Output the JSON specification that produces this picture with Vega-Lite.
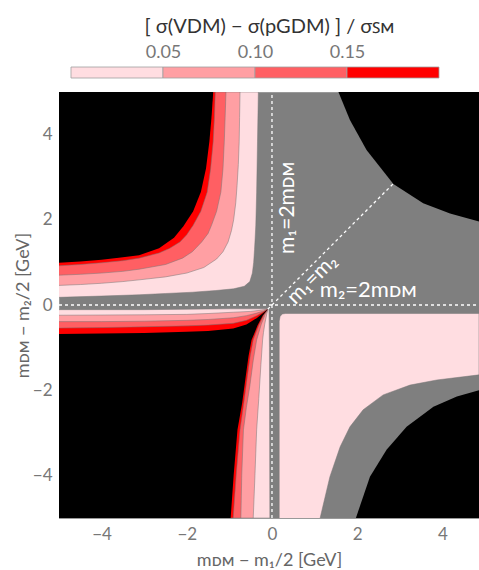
{
  "$schema": "https://vega.github.io/schema/vega-lite/v6.json",
  "padding": {"left": 13, "top": 16, "right": 0, "bottom": 0},
  "background": "white",
  "spacing": 12,
  "config": {"font": "Lato", "view": {"stroke": null}},
  "datasets": {
    "polys": [
      {"poly":"q2L","band":"light","i":0,"x":-5,"y":0.18},{"poly":"q2L","band":"light","i":1,"x":-4,"y":0.21},{"poly":"q2L","band":"light","i":2,"x":-3.12,"y":0.24},{"poly":"q2L","band":"light","i":3,"x":-2.5,"y":0.27},{"poly":"q2L","band":"light","i":4,"x":-1.87,"y":0.3},{"poly":"q2L","band":"light","i":5,"x":-1.32,"y":0.34},{"poly":"q2L","band":"light","i":6,"x":-0.9,"y":0.38},{"poly":"q2L","band":"light","i":7,"x":-0.65,"y":0.44},{"poly":"q2L","band":"light","i":8,"x":-0.52,"y":0.55},{"poly":"q2L","band":"light","i":9,"x":-0.46,"y":0.75},{"poly":"q2L","band":"light","i":10,"x":-0.43,"y":1.0},{"poly":"q2L","band":"light","i":11,"x":-0.41,"y":1.3},{"poly":"q2L","band":"light","i":12,"x":-0.4,"y":1.48},{"poly":"q2L","band":"light","i":13,"x":-0.38,"y":1.87},{"poly":"q2L","band":"light","i":14,"x":-0.36,"y":2.65},{"poly":"q2L","band":"light","i":15,"x":-0.34,"y":3.83},{"poly":"q2L","band":"light","i":16,"x":-0.32,"y":5},{"poly":"q2L","band":"light","i":17,"x":-5,"y":5},
      {"poly":"q2M","band":"mid","i":0,"x":-5,"y":0.46},{"poly":"q2M","band":"mid","i":1,"x":-4.5,"y":0.48},{"poly":"q2M","band":"mid","i":2,"x":-4,"y":0.51},{"poly":"q2M","band":"mid","i":3,"x":-3.5,"y":0.55},{"poly":"q2M","band":"mid","i":4,"x":-3.12,"y":0.59},{"poly":"q2M","band":"mid","i":5,"x":-2.5,"y":0.66},{"poly":"q2M","band":"mid","i":6,"x":-2,"y":0.75},{"poly":"q2M","band":"mid","i":7,"x":-1.6,"y":0.88},{"poly":"q2M","band":"mid","i":8,"x":-1.3,"y":1.08},{"poly":"q2M","band":"mid","i":9,"x":-1.15,"y":1.25},{"poly":"q2M","band":"mid","i":10,"x":-1.03,"y":1.48},{"poly":"q2M","band":"mid","i":11,"x":-0.95,"y":1.75},{"poly":"q2M","band":"mid","i":12,"x":-0.9,"y":2.0},{"poly":"q2M","band":"mid","i":13,"x":-0.85,"y":2.4},{"poly":"q2M","band":"mid","i":14,"x":-0.82,"y":2.8},{"poly":"q2M","band":"mid","i":15,"x":-0.79,"y":3.3},{"poly":"q2M","band":"mid","i":16,"x":-0.77,"y":3.83},{"poly":"q2M","band":"mid","i":17,"x":-0.76,"y":4.4},{"poly":"q2M","band":"mid","i":18,"x":-0.75,"y":5},{"poly":"q2M","band":"mid","i":19,"x":-5,"y":5},
      {"poly":"q2D","band":"dark","i":0,"x":-5,"y":0.7},{"poly":"q2D","band":"dark","i":1,"x":-4.5,"y":0.72},{"poly":"q2D","band":"dark","i":2,"x":-4,"y":0.75},{"poly":"q2D","band":"dark","i":3,"x":-3.5,"y":0.79},{"poly":"q2D","band":"dark","i":4,"x":-3.12,"y":0.84},{"poly":"q2D","band":"dark","i":5,"x":-2.5,"y":0.95},{"poly":"q2D","band":"dark","i":6,"x":-2.1,"y":1.1},{"poly":"q2D","band":"dark","i":7,"x":-1.87,"y":1.25},{"poly":"q2D","band":"dark","i":8,"x":-1.65,"y":1.48},{"poly":"q2D","band":"dark","i":9,"x":-1.5,"y":1.68},{"poly":"q2D","band":"dark","i":10,"x":-1.42,"y":1.87},{"poly":"q2D","band":"dark","i":11,"x":-1.3,"y":2.2},{"poly":"q2D","band":"dark","i":12,"x":-1.2,"y":2.65},{"poly":"q2D","band":"dark","i":13,"x":-1.15,"y":3.2},{"poly":"q2D","band":"dark","i":14,"x":-1.12,"y":3.83},{"poly":"q2D","band":"dark","i":15,"x":-1.1,"y":4.4},{"poly":"q2D","band":"dark","i":16,"x":-1.08,"y":5},{"poly":"q2D","band":"dark","i":17,"x":-5,"y":5},
      {"poly":"q2R","band":"red","i":0,"x":-5,"y":0.92},{"poly":"q2R","band":"red","i":1,"x":-4.5,"y":0.95},{"poly":"q2R","band":"red","i":2,"x":-4,"y":0.99},{"poly":"q2R","band":"red","i":3,"x":-3.5,"y":1.04},{"poly":"q2R","band":"red","i":4,"x":-3.12,"y":1.1},{"poly":"q2R","band":"red","i":5,"x":-2.65,"y":1.22},{"poly":"q2R","band":"red","i":6,"x":-2.4,"y":1.33},{"poly":"q2R","band":"red","i":7,"x":-2.16,"y":1.48},{"poly":"q2R","band":"red","i":8,"x":-2,"y":1.65},{"poly":"q2R","band":"red","i":9,"x":-1.85,"y":1.87},{"poly":"q2R","band":"red","i":10,"x":-1.67,"y":2.2},{"poly":"q2R","band":"red","i":11,"x":-1.52,"y":2.65},{"poly":"q2R","band":"red","i":12,"x":-1.44,"y":3.2},{"poly":"q2R","band":"red","i":13,"x":-1.38,"y":3.83},{"poly":"q2R","band":"red","i":14,"x":-1.35,"y":4.4},{"poly":"q2R","band":"red","i":15,"x":-1.33,"y":5},{"poly":"q2R","band":"red","i":16,"x":-5,"y":5},
      {"poly":"q2K","band":"black","i":0,"x":-5,"y":0.99},{"poly":"q2K","band":"black","i":1,"x":-4.5,"y":1.02},{"poly":"q2K","band":"black","i":2,"x":-4,"y":1.06},{"poly":"q2K","band":"black","i":3,"x":-3.5,"y":1.12},{"poly":"q2K","band":"black","i":4,"x":-3.12,"y":1.17},{"poly":"q2K","band":"black","i":5,"x":-2.65,"y":1.33},{"poly":"q2K","band":"black","i":6,"x":-2.3,"y":1.58},{"poly":"q2K","band":"black","i":7,"x":-2.08,"y":1.85},{"poly":"q2K","band":"black","i":8,"x":-1.85,"y":2.2},{"poly":"q2K","band":"black","i":9,"x":-1.67,"y":2.65},{"poly":"q2K","band":"black","i":10,"x":-1.55,"y":3.2},{"poly":"q2K","band":"black","i":11,"x":-1.47,"y":3.83},{"poly":"q2K","band":"black","i":12,"x":-1.42,"y":4.4},{"poly":"q2K","band":"black","i":13,"x":-1.38,"y":5},{"poly":"q2K","band":"black","i":14,"x":-5,"y":5},
      {"poly":"q3L","band":"light","i":0,"x":-5,"y":-0.11},{"poly":"q3L","band":"light","i":1,"x":-3,"y":-0.11},{"poly":"q3L","band":"light","i":2,"x":-1,"y":-0.09},{"poly":"q3L","band":"light","i":3,"x":-0.07,"y":-0.09},{"poly":"q3L","band":"light","i":4,"x":-0.06,"y":-1},{"poly":"q3L","band":"light","i":5,"x":-0.05,"y":-5},{"poly":"q3L","band":"light","i":6,"x":-5,"y":-5},
      {"poly":"q3M","band":"mid","i":0,"x":-5,"y":-0.24},{"poly":"q3M","band":"mid","i":1,"x":-3,"y":-0.23},{"poly":"q3M","band":"mid","i":2,"x":-2,"y":-0.22},{"poly":"q3M","band":"mid","i":3,"x":-1.5,"y":-0.2},{"poly":"q3M","band":"mid","i":4,"x":-0.91,"y":-0.17},{"poly":"q3M","band":"mid","i":5,"x":-0.5,"y":-0.15},{"poly":"q3M","band":"mid","i":6,"x":-0.25,"y":-0.12},{"poly":"q3M","band":"mid","i":7,"x":-0.09,"y":-0.09},{"poly":"q3M","band":"mid","i":8,"x":-0.12,"y":-0.2},{"poly":"q3M","band":"mid","i":9,"x":-0.17,"y":-0.45},{"poly":"q3M","band":"mid","i":10,"x":-0.2,"y":-0.65},{"poly":"q3M","band":"mid","i":11,"x":-0.22,"y":-0.82},{"poly":"q3M","band":"mid","i":12,"x":-0.26,"y":-1.4},{"poly":"q3M","band":"mid","i":13,"x":-0.31,"y":-2.2},{"poly":"q3M","band":"mid","i":14,"x":-0.36,"y":-2.93},{"poly":"q3M","band":"mid","i":15,"x":-0.4,"y":-4},{"poly":"q3M","band":"mid","i":16,"x":-0.44,"y":-5},{"poly":"q3M","band":"mid","i":17,"x":-5,"y":-5},
      {"poly":"q3D","band":"dark","i":0,"x":-5,"y":-0.39},{"poly":"q3D","band":"dark","i":1,"x":-4,"y":-0.39},{"poly":"q3D","band":"dark","i":2,"x":-3,"y":-0.38},{"poly":"q3D","band":"dark","i":3,"x":-2,"y":-0.36},{"poly":"q3D","band":"dark","i":4,"x":-1.5,"y":-0.34},{"poly":"q3D","band":"dark","i":5,"x":-0.91,"y":-0.3},{"poly":"q3D","band":"dark","i":6,"x":-0.6,"y":-0.25},{"poly":"q3D","band":"dark","i":7,"x":-0.36,"y":-0.19},{"poly":"q3D","band":"dark","i":8,"x":-0.2,"y":-0.14},{"poly":"q3D","band":"dark","i":9,"x":-0.09,"y":-0.09},{"poly":"q3D","band":"dark","i":10,"x":-0.16,"y":-0.22},{"poly":"q3D","band":"dark","i":11,"x":-0.25,"y":-0.45},{"poly":"q3D","band":"dark","i":12,"x":-0.31,"y":-0.65},{"poly":"q3D","band":"dark","i":13,"x":-0.36,"y":-0.82},{"poly":"q3D","band":"dark","i":14,"x":-0.44,"y":-1.3},{"poly":"q3D","band":"dark","i":15,"x":-0.52,"y":-1.9},{"poly":"q3D","band":"dark","i":16,"x":-0.6,"y":-2.4},{"poly":"q3D","band":"dark","i":17,"x":-0.67,"y":-2.93},{"poly":"q3D","band":"dark","i":18,"x":-0.71,"y":-4},{"poly":"q3D","band":"dark","i":19,"x":-0.73,"y":-5},{"poly":"q3D","band":"dark","i":20,"x":-5,"y":-5},
      {"poly":"q3R","band":"red","i":0,"x":-5,"y":-0.54},{"poly":"q3R","band":"red","i":1,"x":-4,"y":-0.53},{"poly":"q3R","band":"red","i":2,"x":-3,"y":-0.51},{"poly":"q3R","band":"red","i":3,"x":-2,"y":-0.49},{"poly":"q3R","band":"red","i":4,"x":-1.5,"y":-0.47},{"poly":"q3R","band":"red","i":5,"x":-0.91,"y":-0.43},{"poly":"q3R","band":"red","i":6,"x":-0.6,"y":-0.36},{"poly":"q3R","band":"red","i":7,"x":-0.36,"y":-0.25},{"poly":"q3R","band":"red","i":8,"x":-0.2,"y":-0.16},{"poly":"q3R","band":"red","i":9,"x":-0.09,"y":-0.09},{"poly":"q3R","band":"red","i":10,"x":-0.19,"y":-0.23},{"poly":"q3R","band":"red","i":11,"x":-0.3,"y":-0.46},{"poly":"q3R","band":"red","i":12,"x":-0.38,"y":-0.66},{"poly":"q3R","band":"red","i":13,"x":-0.44,"y":-0.82},{"poly":"q3R","band":"red","i":14,"x":-0.51,"y":-1.2},{"poly":"q3R","band":"red","i":15,"x":-0.58,"y":-1.7},{"poly":"q3R","band":"red","i":16,"x":-0.66,"y":-2.3},{"poly":"q3R","band":"red","i":17,"x":-0.75,"y":-2.93},{"poly":"q3R","band":"red","i":18,"x":-0.84,"y":-4},{"poly":"q3R","band":"red","i":19,"x":-0.91,"y":-5},{"poly":"q3R","band":"red","i":20,"x":-5,"y":-5},
      {"poly":"q3K","band":"black","i":0,"x":-5,"y":-0.68},{"poly":"q3K","band":"black","i":1,"x":-4,"y":-0.67},{"poly":"q3K","band":"black","i":2,"x":-3,"y":-0.66},{"poly":"q3K","band":"black","i":3,"x":-2,"y":-0.63},{"poly":"q3K","band":"black","i":4,"x":-1.5,"y":-0.61},{"poly":"q3K","band":"black","i":5,"x":-0.91,"y":-0.55},{"poly":"q3K","band":"black","i":6,"x":-0.6,"y":-0.46},{"poly":"q3K","band":"black","i":7,"x":-0.36,"y":-0.31},{"poly":"q3K","band":"black","i":8,"x":-0.2,"y":-0.18},{"poly":"q3K","band":"black","i":9,"x":-0.09,"y":-0.09},{"poly":"q3K","band":"black","i":10,"x":-0.22,"y":-0.25},{"poly":"q3K","band":"black","i":11,"x":-0.34,"y":-0.48},{"poly":"q3K","band":"black","i":12,"x":-0.42,"y":-0.68},{"poly":"q3K","band":"black","i":13,"x":-0.48,"y":-0.82},{"poly":"q3K","band":"black","i":14,"x":-0.55,"y":-1.2},{"poly":"q3K","band":"black","i":15,"x":-0.62,"y":-1.7},{"poly":"q3K","band":"black","i":16,"x":-0.7,"y":-2.3},{"poly":"q3K","band":"black","i":17,"x":-0.81,"y":-2.93},{"poly":"q3K","band":"black","i":18,"x":-0.9,"y":-4},{"poly":"q3K","band":"black","i":19,"x":-0.97,"y":-5},{"poly":"q3K","band":"black","i":20,"x":-5,"y":-5},
      {"poly":"q4L","band":"light","i":0,"x":0.17,"y":-5},{"poly":"q4L","band":"light","i":1,"x":0.17,"y":-0.38},{"poly":"q4L","band":"light","i":2,"x":0.19,"y":-0.27},{"poly":"q4L","band":"light","i":3,"x":0.24,"y":-0.21},{"poly":"q4L","band":"light","i":4,"x":0.32,"y":-0.2},{"poly":"q4L","band":"light","i":5,"x":4.86,"y":-0.2},{"poly":"q4L","band":"light","i":6,"x":4.86,"y":-1.64},{"poly":"q4L","band":"light","i":7,"x":3.87,"y":-1.76},{"poly":"q4L","band":"light","i":8,"x":3.24,"y":-1.88},{"poly":"q4L","band":"light","i":9,"x":2.61,"y":-2.11},{"poly":"q4L","band":"light","i":10,"x":2.14,"y":-2.46},{"poly":"q4L","band":"light","i":11,"x":1.83,"y":-2.86},{"poly":"q4L","band":"light","i":12,"x":1.6,"y":-3.33},{"poly":"q4L","band":"light","i":13,"x":1.36,"y":-4.03},{"poly":"q4L","band":"light","i":14,"x":1.13,"y":-5},
      {"poly":"q4K","band":"black","i":0,"x":1.97,"y":-5},{"poly":"q4K","band":"black","i":1,"x":2.3,"y":-4.03},{"poly":"q4K","band":"black","i":2,"x":2.69,"y":-3.4},{"poly":"q4K","band":"black","i":3,"x":3.16,"y":-2.86},{"poly":"q4K","band":"black","i":4,"x":3.79,"y":-2.39},{"poly":"q4K","band":"black","i":5,"x":4.34,"y":-2.15},{"poly":"q4K","band":"black","i":6,"x":4.86,"y":-2.0},{"poly":"q4K","band":"black","i":7,"x":4.86,"y":-5},
      {"poly":"q1K","band":"black","i":0,"x":1.56,"y":5},{"poly":"q1K","band":"black","i":1,"x":1.83,"y":4.34},{"poly":"q1K","band":"black","i":2,"x":2.22,"y":3.64},{"poly":"q1K","band":"black","i":3,"x":2.85,"y":2.84},{"poly":"q1K","band":"black","i":4,"x":3.55,"y":2.39},{"poly":"q1K","band":"black","i":5,"x":4.18,"y":2.15},{"poly":"q1K","band":"black","i":6,"x":4.86,"y":1.96},{"poly":"q1K","band":"black","i":7,"x":4.86,"y":5}
    ]
  },
  "vconcat": [
    {
      "width": 420,
      "height": 11,
      "data": {"values": [
        {"lo": 0, "hi": 0.05, "band": "light"},
        {"lo": 0.05, "hi": 0.1, "band": "mid"},
        {"lo": 0.1, "hi": 0.15, "band": "dark"},
        {"lo": 0.15, "hi": 0.2, "band": "red"}
      ]},
      "mark": {"type": "rect", "stroke": "#a0a0a0", "strokeWidth": 0.8},
      "encoding": {
        "x": {"field": "lo", "type": "quantitative",
          "scale": {"domain": [-0.00652, 0.22174], "nice": false, "zero": false},
          "axis": {"orient": "top", "values": [0.05, 0.1, 0.15], "format": ".2f", "domain": false, "ticks": false, "grid": false,
            "labelFontSize": 18, "labelColor": "#777", "labelPadding": 6,
            "title": "[ σ(VDM) − σ(pGDM) ] / σꜱᴍ", "titleFontSize": 20, "titleColor": "#333", "titleFontWeight": "normal", "titlePadding": 7}},
        "x2": {"field": "hi"},
        "color": {"field": "band", "type": "nominal", "legend": null,
          "scale": {"domain": ["light", "mid", "dark", "red", "black"], "range": ["#FFDDE1", "#FF9FA3", "#FF5F63", "#FF0000", "#000000"]}}
      }
    },
    {
      "width": 420,
      "height": 426,
      "view": {"fill": "#7f7f7f", "stroke": "#999999"},
      "layer": [
        {
          "data": {"name": "polys"},
          "transform": [{"filter": "datum.band === 'light'"}],
          "mark": {"type": "line", "filled": true, "stroke": "#777", "strokeWidth": 0.5, "clip": true},
          "encoding": {
            "x": {"field": "x", "type": "quantitative", "scale": {"domain": [-5, 4.86], "nice": false, "zero": false},
              "axis": {"values": [-4, -2, 0, 2, 4], "grid": false, "ticks": false, "title": "mᴅᴍ − m₁/2 [GeV]", "labelFontSize": 17, "labelColor": "#777", "titleFontSize": 18, "titleColor": "#666", "titleFontWeight": "normal", "domainColor": "#999", "labelPadding": 8, "titlePadding": 9}},
            "y": {"field": "y", "type": "quantitative", "scale": {"domain": [-5, 5], "nice": false, "zero": false},
              "axis": {"values": [-4, -2, 0, 2, 4], "grid": false, "ticks": false, "title": "mᴅᴍ − m₂/2 [GeV]", "labelFontSize": 17, "labelColor": "#777", "titleFontSize": 18, "titleColor": "#666", "titleFontWeight": "normal", "domainColor": "#999", "labelPadding": 7, "titlePadding": 0}},
            "color": {"field": "band", "type": "nominal", "legend": null,
              "scale": {"domain": ["light", "mid", "dark", "red", "black"], "range": ["#FFDDE1", "#FF9FA3", "#FF5F63", "#FF0000", "#000000"]}},
            "detail": {"field": "poly"},
            "order": {"field": "i", "type": "quantitative"}
          }
        },
        {
          "data": {"name": "polys"},
          "transform": [{"filter": "datum.band === 'mid'"}],
          "mark": {"type": "line", "filled": true, "stroke": "#777", "strokeWidth": 0.5, "clip": true},
          "encoding": {
            "x": {"field": "x", "type": "quantitative"},
            "y": {"field": "y", "type": "quantitative"},
            "color": {"field": "band", "type": "nominal", "legend": null},
            "detail": {"field": "poly"},
            "order": {"field": "i", "type": "quantitative"}
          }
        },
        {
          "data": {"name": "polys"},
          "transform": [{"filter": "datum.band === 'dark'"}],
          "mark": {"type": "line", "filled": true, "stroke": "#777", "strokeWidth": 0.5, "clip": true},
          "encoding": {
            "x": {"field": "x", "type": "quantitative"},
            "y": {"field": "y", "type": "quantitative"},
            "color": {"field": "band", "type": "nominal", "legend": null},
            "detail": {"field": "poly"},
            "order": {"field": "i", "type": "quantitative"}
          }
        },
        {
          "data": {"name": "polys"},
          "transform": [{"filter": "datum.band === 'red'"}],
          "mark": {"type": "line", "filled": true, "stroke": "#777", "strokeWidth": 0.5, "clip": true},
          "encoding": {
            "x": {"field": "x", "type": "quantitative"},
            "y": {"field": "y", "type": "quantitative"},
            "color": {"field": "band", "type": "nominal", "legend": null},
            "detail": {"field": "poly"},
            "order": {"field": "i", "type": "quantitative"}
          }
        },
        {
          "data": {"name": "polys"},
          "transform": [{"filter": "datum.band === 'black'"}],
          "mark": {"type": "line", "filled": true, "clip": true},
          "encoding": {
            "x": {"field": "x", "type": "quantitative"},
            "y": {"field": "y", "type": "quantitative"},
            "color": {"field": "band", "type": "nominal", "legend": null},
            "detail": {"field": "poly"},
            "order": {"field": "i", "type": "quantitative"}
          }
        },
        {
          "data": {"values": [
            {"x": 0, "y": -5, "x2": 0, "y2": 5},
            {"x": -5, "y": 0, "x2": 4.86, "y2": 0},
            {"x": -0.1, "y": -0.1, "x2": 2.84, "y2": 2.84}
          ]},
          "mark": {"type": "rule", "color": "white", "strokeWidth": 1.3, "strokeDash": [3, 3], "clip": true},
          "encoding": {
            "x": {"field": "x", "type": "quantitative"},
            "y": {"field": "y", "type": "quantitative"},
            "x2": {"field": "x2"},
            "y2": {"field": "y2"}
          }
        },
        {
          "data": {"values": [{"t": "m₁=2mᴅᴍ", "x": 0.37, "y": 2.28}]},
          "mark": {"type": "text", "angle": 270, "color": "white", "fontSize": 21},
          "encoding": {
            "x": {"field": "x", "type": "quantitative"},
            "y": {"field": "y", "type": "quantitative"},
            "text": {"field": "t"}
          }
        },
        {
          "data": {"values": [{"t": "m₁=m₂", "x": 0.95, "y": 0.6}]},
          "mark": {"type": "text", "angle": 315, "color": "white", "fontSize": 21},
          "encoding": {
            "x": {"field": "x", "type": "quantitative"},
            "y": {"field": "y", "type": "quantitative"},
            "text": {"field": "t"}
          }
        },
        {
          "data": {"values": [{"t": "m₂=2mᴅᴍ", "x": 2.26, "y": 0.06}]},
          "mark": {"type": "text", "baseline": "bottom", "color": "white", "fontSize": 22},
          "encoding": {
            "x": {"field": "x", "type": "quantitative"},
            "y": {"field": "y", "type": "quantitative"},
            "text": {"field": "t"}
          }
        }
      ]
    }
  ]
}
